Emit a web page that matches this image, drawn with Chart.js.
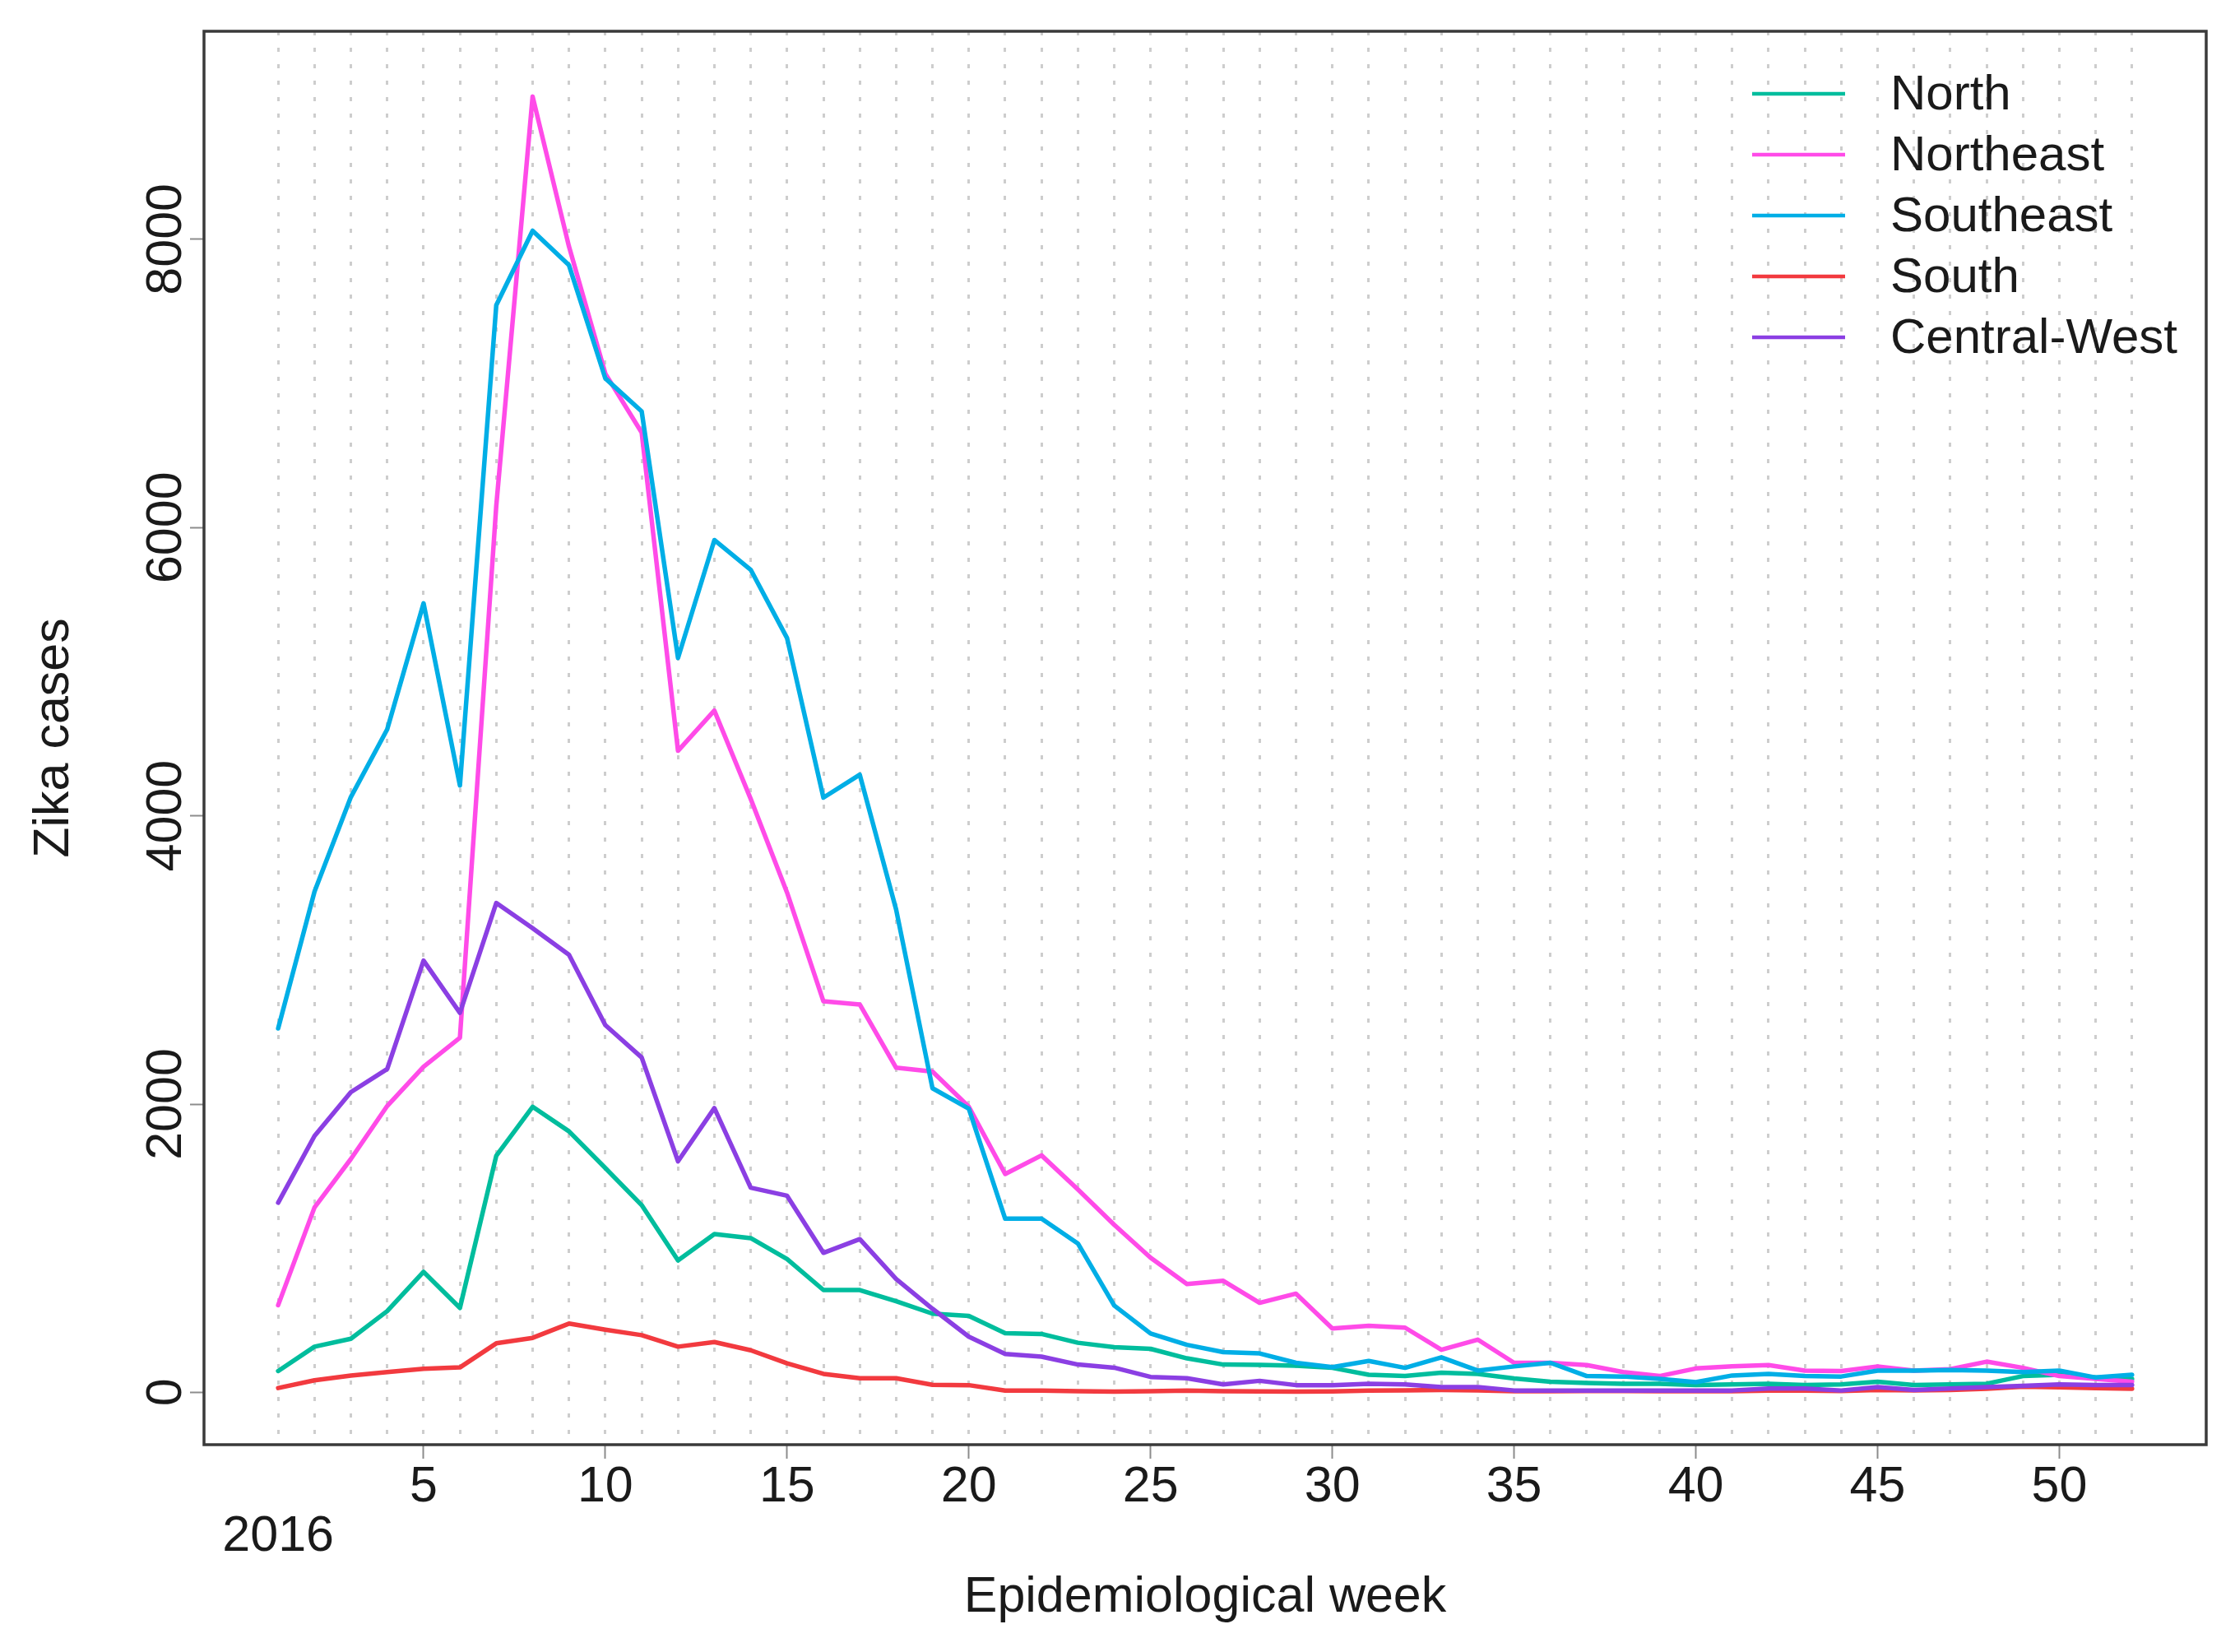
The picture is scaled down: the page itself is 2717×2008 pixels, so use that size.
<!DOCTYPE html>
<html>
<head>
<meta charset="utf-8">
<title>Zika cases by region, 2016</title>
<script src="https://cdn.jsdelivr.net/npm/chart.js@4.4.1/dist/chart.umd.min.js"></script>
<style>
  html, body { margin: 0; padding: 0; background: #fff; }
  #wrap { width: 2717px; height: 2008px; }
</style>
</head>
<body>
<div id="wrap"><canvas id="zikaChart"></canvas></div>
<script>
"use strict";

// epidemiological weeks of 2016
const weeks = [1, 2, 3, 4, 5, 6, 7, 8, 9, 10, 11, 12, 13, 14, 15, 16, 17, 18, 19, 20, 21, 22, 23, 24, 25, 26,
  27, 28, 29, 30, 31, 32, 33, 34, 35, 36, 37, 38, 39, 40, 41, 42, 43, 44, 45, 46, 47, 48, 49, 50, 51, 52];
const yearLabel = '2016';
const regions = ['North', 'Northeast', 'Southeast', 'South', 'Central-West'];
const regionColors = ['#00BD9D', '#FF4BE8', '#00AEE6', '#F23A3F', '#8B3FE3'];

// weekly cases
const northCases = [148, 317, 372, 564, 836, 586, 1641, 1981, 1811, 1556, 1299, 915, 1098, 1070, 925, 710, 710, 632, 546, 530,
  410, 405, 344, 313, 302, 236, 193, 190, 185, 170, 122, 113, 136, 128, 97, 74, 65, 60, 60, 51,
  55, 60, 51, 55, 74, 51, 55, 60, 113, 122, 103, 93];
const northeastCases = [605, 1283, 1619, 1987, 2259, 2460, 6150, 8990, 7950, 7068, 6659, 4451, 4730, 4117, 3467, 2713, 2691, 2252, 2226, 1981,
  1515, 1644, 1408, 1162, 934, 752, 774, 621, 685, 443, 462, 449, 295, 366, 205, 205, 189, 141, 113, 166,
  180, 189, 151, 148, 180, 151, 161, 213, 170, 113, 93, 74];
const southeastCases = [2525, 3474, 4130, 4600, 5474, 4210, 7542, 8059, 7820, 7035, 6806, 5095, 5913, 5707, 5233, 4126, 4285, 3350, 2110, 1968,
  1205, 1205, 1033, 602, 408, 330, 279, 270, 205, 175, 218, 170, 243, 151, 180, 205, 113, 110, 93, 71,
  117, 128, 113, 110, 151, 151, 155, 151, 141, 151, 103, 122];
const southCases = [30, 84, 116, 141, 164, 173, 340, 378, 477, 435, 397, 317, 349, 292, 201, 128, 98, 98, 52, 50,
  12, 12, 8, 5, 8, 12, 8, 6, 5, 6, 12, 14, 16, 14, 8, 8, 10, 10, 8, 8,
  8, 12, 12, 10, 16, 14, 16, 25, 40, 35, 30, 25];
const centralWestCases = [1316, 1779, 2083, 2243, 2995, 2633, 3395, 3220, 3036, 2548, 2323, 1603, 1972, 1420, 1364, 968, 1063, 787, 580, 386,
  266, 248, 193, 171, 107, 98, 55, 80, 50, 50, 60, 55, 36, 36, 13, 13, 13, 13, 13, 13,
  13, 26, 26, 13, 36, 16, 26, 36, 45, 55, 51, 51];

const xTicks = weeks;
const yTicks = [0, 2000, 4000, 6000, 8000];

const FONT = '"Liberation Sans", Arial, Helvetica, sans-serif';
const TEXT = '#1a1a1a';

Chart.defaults.font.family = FONT;
Chart.defaults.color = TEXT;

const seriesList = [northCases, northeastCases, southeastCases, southCases, centralWestCases];

// R style frame around the plotting region
const plotFrame = {
  id: 'plotFrame',
  afterDraw(chart) {
    const { ctx, chartArea: { left, top, width, height } } = chart;
    ctx.save();
    ctx.lineWidth = 3.5;
    ctx.strokeStyle = '#3a3a3a';
    ctx.strokeRect(left, top, width, height);
    ctx.restore();
  }
};

// y tick labels rotated like R's default las = 0
const yTickLabels = {
  id: 'yTickLabels',
  afterDraw(chart) {
    const { ctx, scales: { y } } = chart;
    ctx.save();
    ctx.font = '61px ' + FONT;
    ctx.fillStyle = TEXT;
    ctx.textAlign = 'center';
    ctx.textBaseline = 'alphabetic';
    y.ticks.forEach(t => {
      const py = y.getPixelForValue(t.value);
      ctx.save();
      ctx.translate(y.right - 28, py);
      ctx.rotate(-Math.PI / 2);
      ctx.fillText(String(t.value), 0, 0);
      ctx.restore();
    });
    ctx.restore();
  }
};

// legend inside the plot, top right, no box
const insideLegend = {
  id: 'insideLegend',
  afterDraw(chart) {
    const { ctx, chartArea: { right, top } } = chart;
    const x0 = right - 552;
    const x1 = right - 439;
    const tx = right - 384;
    ctx.save();
    ctx.font = '60px ' + FONT;
    ctx.textAlign = 'left';
    ctx.textBaseline = 'middle';
    chart.data.datasets.forEach((ds, i) => {
      const ly = top + 76 + i * 74;
      ctx.beginPath();
      ctx.lineWidth = 4.5;
      ctx.strokeStyle = ds.borderColor;
      ctx.moveTo(x0, ly);
      ctx.lineTo(x1, ly);
      ctx.stroke();
      ctx.fillStyle = TEXT;
      ctx.fillText(ds.label, tx, ly + 2);
    });
    ctx.restore();
  }
};

const ctx = document.getElementById('zikaChart');

const zikaChart = new Chart(ctx, {
  type: 'line',
  data: {
    datasets: regions.map((name, i) => ({
      label: name,
      data: seriesList[i].map((v, k) => ({ x: weeks[k], y: v })),
      borderColor: regionColors[i],
      backgroundColor: regionColors[i],
      borderWidth: 5.5,
      borderJoinStyle: 'round',
      borderCapStyle: 'round',
      pointRadius: 0,
      tension: 0,
      fill: false,
      order: regions.length - i
    }))
  },
  options: {
    responsive: true,
    maintainAspectRatio: false,
    devicePixelRatio: 1,
    animation: false,
    layout: {
      padding: { left: 0, top: 38, right: 35, bottom: 0 }
    },
    plugins: {
      legend: { display: false },
      tooltip: { enabled: false }
    },
    scales: {
      x: {
        type: 'linear',
        min: -1.04,
        max: 54.04,
        afterBuildTicks: s => { s.ticks = xTicks.map(v => ({ value: v })); },
        afterFit: s => { s.height = 252; },
        border: { display: false, dash: [5, 15] },
        grid: {
          color: '#cdcdcd',
          lineWidth: 3,
          drawTicks: true,
          tickLength: 17,
          tickWidth: 2,
          tickBorderDash: [],
          tickColor: c => (c.tick && c.tick.value % 5 === 0) ? '#8c8c8c' : 'rgba(0,0,0,0)'
        },
        ticks: {
          autoSkip: false,
          maxRotation: 0,
          minRotation: 0,
          padding: 5,
          color: TEXT,
          font: { size: 61, lineHeight: '60px' },
          callback: v => {
            if (v === 1) return ['', yearLabel];
            return v % 5 === 0 ? String(v) : '';
          }
        },
        title: {
          display: true,
          text: 'Epidemiological week',
          color: TEXT,
          font: { size: 61, lineHeight: 1 },
          padding: { top: 0, bottom: 35 }
        }
      },
      y: {
        type: 'linear',
        min: -363,
        max: 9443,
        afterBuildTicks: s => { s.ticks = yTicks.map(v => ({ value: v })); },
        afterFit: s => { s.width = 248; },
        border: { display: false },
        grid: {
          drawOnChartArea: false,
          drawTicks: true,
          tickLength: 17,
          tickWidth: 2,
          tickColor: '#8c8c8c'
        },
        ticks: { display: false },
        title: {
          display: true,
          text: 'Zika cases',
          color: TEXT,
          font: { size: 61, lineHeight: 1 },
          padding: { top: 36, bottom: 0 }
        }
      }
    }
  },
  plugins: [plotFrame, yTickLabels, insideLegend]
});
</script>
</body>
</html>
